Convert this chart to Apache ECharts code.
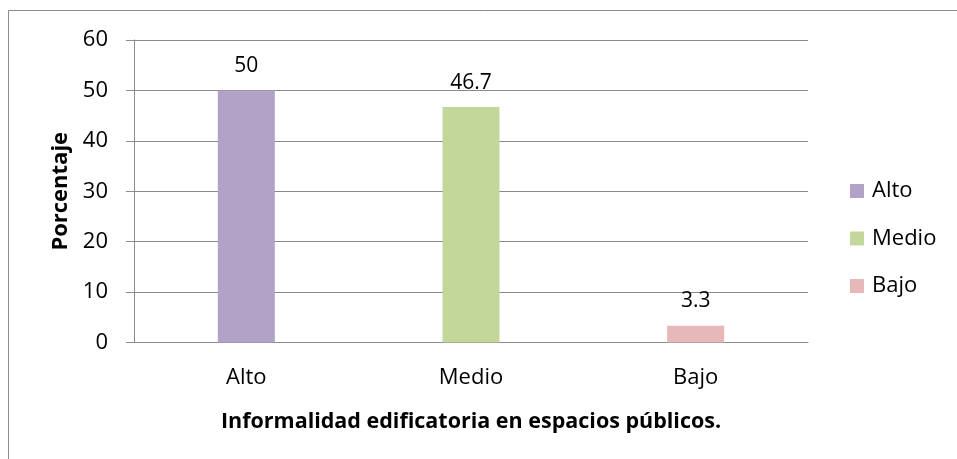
<!DOCTYPE html>
<html>
<head>
<meta charset="utf-8">
<script src="https://cdn.jsdelivr.net/npm/echarts@6/dist/echarts.min.js"></script>
<style>
  html, body { margin: 0; padding: 0; background: #fff; }
  #chart { width: 957px; height: 459px; }
</style>
</head>
<body>
<div id="chart"></div>
<script>
// datos
const categorias = ["Alto", "Medio", "Bajo"];
const valoresAlto = [50, null, null];
const valoresMedio = [null, 46.7, null];
const valoresBajo = [null, null, 3.3];
const ticksY = [0, 10, 20, 30, 40, 50, 60];

const fuente = "'Open Sans', 'Noto Sans', sans-serif";
const colores = ["#B3A2C7", "#C4D79B", "#E6B9B8"];

function serie(nombre, datos, color) {
  return {
    name: nombre,
    type: "bar",
    data: datos,
    barWidth: 57,
    barGap: "-100%",
    itemStyle: { color: color },
    label: {
      show: true,
      position: "top",
      distance: 14,
      color: "#000",
      fontFamily: fuente,
      fontSize: 21,
    },
  };
}

const chart = echarts.init(document.getElementById("chart"));
const option = {
  animation: false,
  graphic: [
    {
      type: "rect",
      shape: { x: 8.5, y: 10.5, width: 1000, height: 1000 },
      style: { fill: "none", stroke: "#8a8a8a", lineWidth: 1 },
      silent: true,
    },
  ],
  grid: { left: 134, right: 149, top: 40, bottom: 116.5 },
  legend: {
    orient: "vertical",
    left: 850,
    top: 180,
    padding: 0,
    itemWidth: 14,
    itemHeight: 14,
    itemGap: 25.5,
    icon: "rect",
    textStyle: { fontFamily: fuente, fontSize: 22, color: "#000", padding: [0, 0, 0, 3] },
    data: categorias,
  },
  xAxis: {
    type: "category",
    data: categorias,
    name: "Informalidad edificatoria en espacios públicos.",
    nameLocation: "middle",
    nameGap: 68,
    nameTextStyle: { fontFamily: fuente, fontSize: 21.5, fontWeight: "bold", color: "#000" },
    axisLine: { lineStyle: { color: "#8a8a8a" } },
    axisTick: { show: false },
    axisLabel: { fontFamily: fuente, fontSize: 22, color: "#000", margin: 24 },
  },
  yAxis: {
    type: "value",
    min: ticksY[0],
    max: ticksY[ticksY.length - 1],
    interval: 10,
    name: "Porcentaje",
    nameLocation: "middle",
    nameGap: 62,
    nameTextStyle: { fontFamily: fuente, fontSize: 22, fontWeight: "bold", color: "#000" },
    axisLine: { show: true, lineStyle: { color: "#8a8a8a" } },
    axisTick: { show: true, length: 8, lineStyle: { color: "#8a8a8a" } },
    axisLabel: { fontFamily: fuente, fontSize: 22, color: "#000", margin: 26 },
    splitLine: { lineStyle: { color: "#8a8a8a" } },
  },
  series: [
    serie("Alto", valoresAlto, colores[0]),
    serie("Medio", valoresMedio, colores[1]),
    serie("Bajo", valoresBajo, colores[2]),
  ],
};
chart.setOption(option);
</script>
</body>
</html>
